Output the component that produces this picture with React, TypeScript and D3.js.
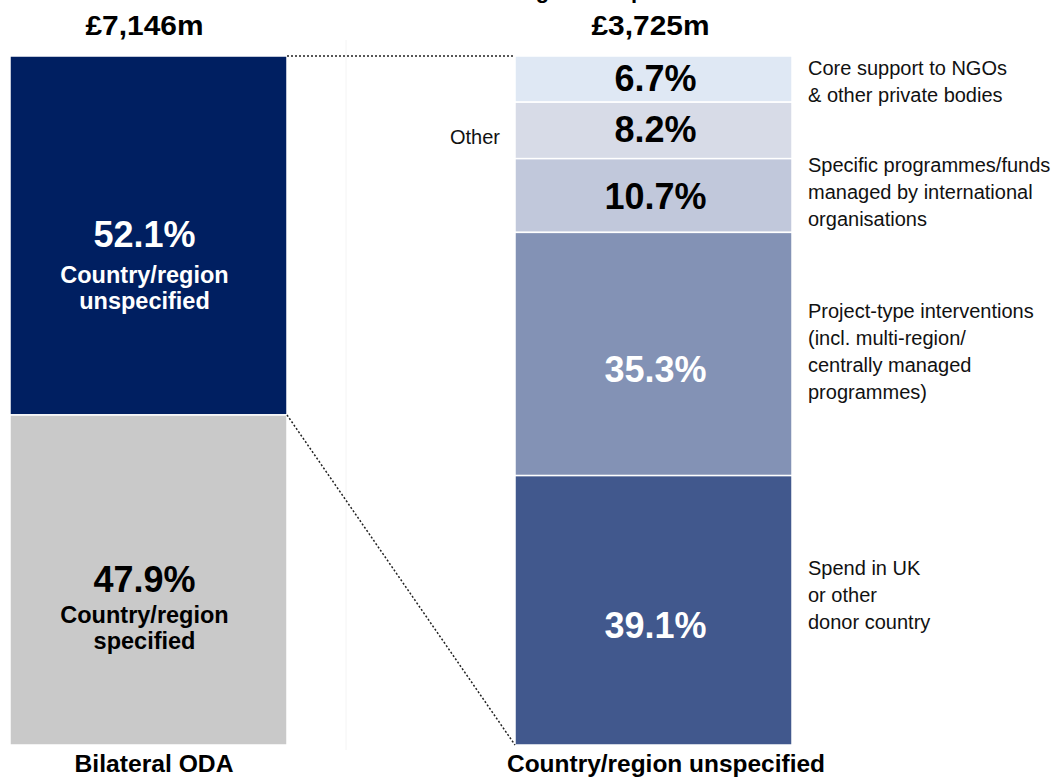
import React from "react";
import * as d3 from "d3";

// ---- Data ----
const leftTotal = "£7,146m";
const rightTotal = "£3,725m";
const leftAxisLabel = "Bilateral ODA";
const rightAxisLabel = "Country/region unspecified";

const leftCategories = ["Country/region unspecified", "Country/region specified"];
const leftValues = [52.1, 47.9];
const leftLabelLines = [
  ["Country/region", "unspecified"],
  ["Country/region", "specified"],
];

const rightCategories = [
  "Core support to NGOs & other private bodies",
  "Other",
  "Specific programmes/funds managed by international organisations",
  "Project-type interventions",
  "Spend in UK or other donor country",
];
const rightValues = [6.7, 8.2, 10.7, 35.3, 39.1];
const rightSideLabels = [
  ["Core support to NGOs", "& other private bodies"],
  [],
  ["Specific programmes/funds", "managed by international", "organisations"],
  ["Project-type interventions", "(incl. multi-region/", "centrally managed", "programmes)"],
  ["Spend in UK", "or other", "donor country"],
];
const otherLabel = "Other";

// ---- Styles ----
const leftColors = ["#001f61", "#c9c9c9"];
const leftTextColors = ["#ffffff", "#000000"];
const rightColors = ["#dfe8f4", "#d7dbe7", "#c1c8db", "#8392b5", "#41588d"];
const rightTextColors = ["#000000", "#000000", "#000000", "#ffffff", "#ffffff"];
const rightPctOffsets = [12, 12, 13, 28, 28];
const rightSideOffsets = [-4, 0, -24, -36, -35];
const leftLine1Gap = [36, 31];

const FONT = "'Liberation Sans', Arial, Helvetica, sans-serif";

function stack(values: number[]) {
  let acc = 0;
  return values.map((v) => {
    const s = { y0: acc, y1: acc + v, v };
    acc += v;
    return s;
  });
}

export default function App() {
  const W = 1061;
  const H = 778;
  const y = d3.scaleLinear().domain([0, 100]).range([56, 745]);
  const barW = 277;
  const leftX = 10;
  const rightX = 515;

  const leftStack = stack(leftValues);
  const rightStack = stack(rightValues);
  const fmt = (v: number) => `${v.toFixed(1)}%`;

  const split = y(leftStack[0].y1);

  return (
    <svg width={W} height={H} style={{ display: "block", position: "absolute", top: 0, left: 0 }}>
      <rect width={W} height={H} fill="#ffffff" />
      {/* faint guide line */}
      <line x1={346} x2={346} y1={40} y2={750} stroke="#f4f4f4" strokeWidth={1} />

      {/* partially visible title */}
      <text x={455} y={-2} fontFamily={FONT} fontWeight="bold" fontSize={22} fill="#000">
        Breaking down spend
      </text>

      {/* totals */}
      <text x={leftX + barW / 2 - 4} y={35} textAnchor="middle" fontFamily={FONT} fontWeight="bold" fontSize={28} fill="#000" textLength={118} lengthAdjust="spacingAndGlyphs">
        {leftTotal}
      </text>
      <text x={rightX + barW / 2 - 3} y={35} textAnchor="middle" fontFamily={FONT} fontWeight="bold" fontSize={28} fill="#000" textLength={118} lengthAdjust="spacingAndGlyphs">
        {rightTotal}
      </text>

      {/* left bar */}
      {leftStack.map((s, i) => {
        const mid = (y(s.y0) + y(s.y1)) / 2;
        const cx = leftX + barW / 2 - 4;
        return (
          <g key={leftCategories[i]}>
            <rect x={leftX} y={y(s.y0)} width={barW} height={y(s.y1) - y(s.y0)} fill={leftColors[i]} stroke="#ffffff" strokeWidth={1.5} />
            <g fill={leftTextColors[i]} fontFamily={FONT} fontWeight="bold" textAnchor="middle">
              <text x={cx} y={mid + 12} fontSize={36}>{fmt(s.v)}</text>
              <text x={cx} y={mid + 12 + leftLine1Gap[i]} fontSize={23.5}>{leftLabelLines[i][0]}</text>
              <text x={cx} y={mid + 12 + leftLine1Gap[i] + 26} fontSize={23.5}>{leftLabelLines[i][1]}</text>
            </g>
          </g>
        );
      })}

      {/* right bar */}
      {rightStack.map((s, i) => {
        const mid = (y(s.y0) + y(s.y1)) / 2;
        return (
          <g key={rightCategories[i]}>
            <rect x={rightX} y={y(s.y0)} width={barW} height={y(s.y1) - y(s.y0)} fill={rightColors[i]} stroke="#ffffff" strokeWidth={1.5} />
            <text x={rightX + barW / 2 + 2} y={mid + rightPctOffsets[i]} textAnchor="middle" fontFamily={FONT} fontWeight="bold" fontSize={36} fill={rightTextColors[i]}>
              {fmt(s.v)}
            </text>
            {rightSideLabels[i].map((line, j) => (
              <text key={j} x={808} y={mid + rightSideOffsets[i] + j * 27} fontFamily={FONT} fontSize={20} fill="#111">
                {line}
              </text>
            ))}
            {i === 1 && (
              <text x={500} y={mid + 14} textAnchor="end" fontFamily={FONT} fontSize={20} fill="#111">
                {otherLabel}
              </text>
            )}
          </g>
        );
      })}

      {/* connector dotted lines */}
      <line x1={leftX + barW} y1={y(0)} x2={rightX} y2={y(0)} stroke="#222" strokeWidth={1.5} strokeDasharray="2,2" />
      <line x1={leftX + barW} y1={split} x2={rightX} y2={y(100)} stroke="#222" strokeWidth={1.5} strokeDasharray="2,2" />

      {/* axis labels */}
      <text x={154} y={772} textAnchor="middle" fontFamily={FONT} fontWeight="bold" fontSize={23} fill="#000" textLength={159} lengthAdjust="spacingAndGlyphs">
        {leftAxisLabel}
      </text>
      <text x={666} y={772} textAnchor="middle" fontFamily={FONT} fontWeight="bold" fontSize={23} fill="#000" textLength={318} lengthAdjust="spacingAndGlyphs">
        {rightAxisLabel}
      </text>
    </svg>
  );
}
